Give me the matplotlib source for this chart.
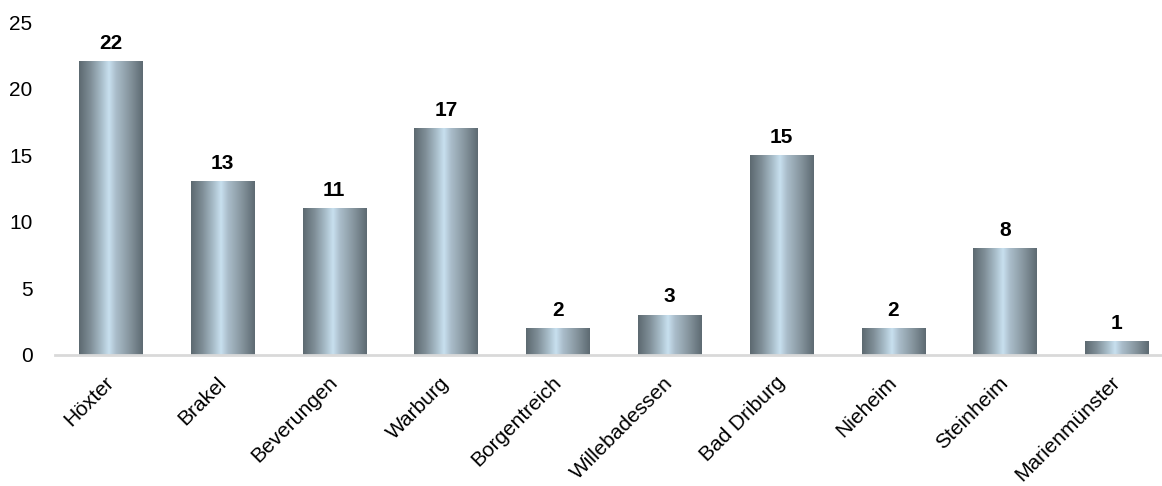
import numpy as np
import matplotlib
matplotlib.use("Agg")
import matplotlib.pyplot as plt
import matplotlib.transforms as mtransforms
from matplotlib.colors import LinearSegmentedColormap

categories = ["Höxter", "Brakel", "Beverungen", "Warburg", "Borgentreich",
              "Willebadessen", "Bad Driburg", "Nieheim", "Steinheim", "Marienmünster"]
values = [22, 13, 11, 17, 2, 3, 15, 2, 8, 1]
yticks = [0, 5, 10, 15, 20, 25]

plt.rcParams['font.family'] = ['Liberation Sans', 'DejaVu Sans']

W, H = 1162, 486
fig = plt.figure(figsize=(W / 100, H / 100), dpi=100)
left = 54.6 / W
right = 1.0
bottom = 1 - 355 / H
top = 1 - 22 / H
ax = fig.add_axes([left, bottom, right - left, top - bottom])

pitch = 111.8
xmax = 9.5 - (54.6 + 10 * pitch - W) / pitch
ax.set_xlim(-0.5, xmax)
ax.set_ylim(0, 25)

cmap = LinearSegmentedColormap.from_list("metal", [
    (0.0, "#5c6970"), (0.18, "#7f8e97"), (0.35, "#a8bdc9"),
    (0.47, "#c8e0ef"), (0.58, "#aabdca"), (0.8, "#85949d"), (1.0, "#5d6a72")])
grad = np.linspace(0, 1, 256).reshape(1, -1)

bw = 0.565
x = np.arange(len(categories))
bars = ax.bar(x, values, width=bw, color="none", zorder=2)
for b, v in zip(bars, values):
    x0 = b.get_x()
    ax.imshow(grad, cmap=cmap, aspect="auto", extent=[x0, x0 + bw, 0, v],
              zorder=2, interpolation="bilinear")
    ax.text(b.get_x() + bw / 2, v + 0.95, str(v), ha="center", va="baseline",
            fontsize=15, fontweight="bold", color="#000000")
ax.set_xlim(-0.5, xmax)
ax.set_ylim(0, 25)

for s in ["top", "right", "left"]:
    ax.spines[s].set_visible(False)
ax.spines["bottom"].set_color("#d9d9d9")
ax.spines["bottom"].set_linewidth(2)
ax.spines["bottom"].set_zorder(3)

ax.set_yticks(yticks)
ax.set_yticklabels([str(t) for t in yticks], fontsize=15)
ax.tick_params(axis="y", length=0, pad=16)
ax.set_xticks(x)
ax.set_xticklabels(categories, rotation=45, ha="right", rotation_mode="anchor",
                   fontsize=15)
ax.tick_params(axis="x", length=0, pad=13)
offset = mtransforms.ScaledTranslation(-6 / 100, 0, fig.dpi_scale_trans)
for lbl in ax.get_xticklabels():
    lbl.set_transform(lbl.get_transform() + offset)

fig.savefig("out.png", dpi=100)
